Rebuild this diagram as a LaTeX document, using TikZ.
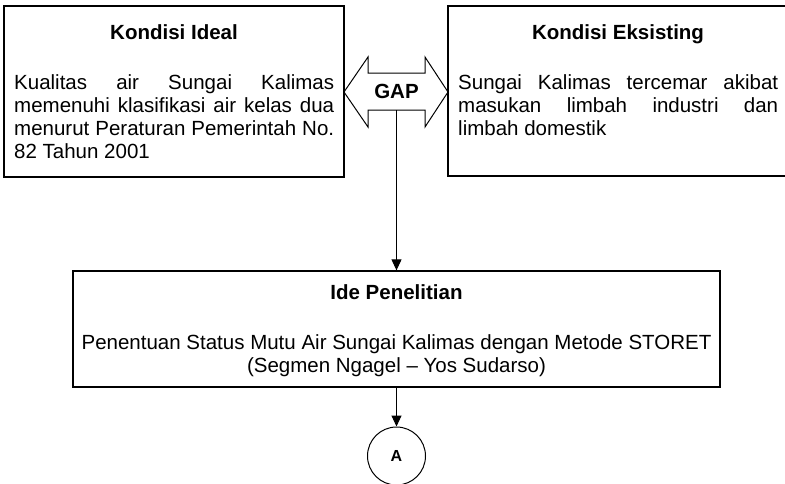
\documentclass[tikz,border=0pt]{standalone}
\usepackage{fontspec}
\setmainfont{Liberation Sans}
\usetikzlibrary{arrows.meta}
\tikzset{
  box/.style={draw, line width=1.3pt, inner sep=0pt, fill=white},
  ttl/.style={font=\fontsize{20.5}{23}\selectfont\bfseries, anchor=base, inner sep=0pt},
  body/.style={font=\fontsize{20.5}{23}\selectfont, anchor=base west, inner sep=0pt, text width=320pt, align=flush left},
  cbody/.style={font=\fontsize{20.5}{23}\selectfont, anchor=base, inner sep=0pt, align=center},
  gapshape/.style={draw, line width=1pt, fill=white},
  link/.style={-{Triangle[width=10pt,length=11pt]}, line width=1pt},
  conn/.style={draw, circle, line width=1pt, minimum size=58pt, inner sep=0pt, font=\fontsize{16}{18}\selectfont\bfseries}
}
\begin{document}
\begin{tikzpicture}[x=1pt,y=-1pt]
\useasboundingbox (0,0) rectangle (785,483);
% left box
\node[box, minimum width=340pt, minimum height=171pt] (ideal) at (174,91.5) {};
\node[ttl] (idealT) at (174,39) {Kondisi Ideal};
\node[body] (idealB) at (14,89) {\makebox[320pt][s]{Kualitas air Sungai Kalimas}\\
\makebox[320pt][s]{memenuhi klasifikasi air kelas dua}\\
\makebox[320pt][s]{menurut Peraturan Pemerintah No.}\\
82 Tahun 2001};
% right box
\node[box, minimum width=340pt, minimum height=170pt] (eks) at (618,91) {};
\node[ttl] (eksT) at (618,39) {Kondisi Eksisting};
\node[body] (eksB) at (458,89) {\makebox[320pt][s]{Sungai Kalimas tercemar akibat}\\
\makebox[320pt][s]{masukan limbah industri dan}\\
limbah domestik};
% GAP double arrow
\draw[gapshape] (344,92) -- (368,57) -- (368,73) -- (425,73) -- (425,57) -- (448,92)
  -- (425,127) -- (425,110) -- (368,110) -- (368,127) -- cycle;
\node[ttl] (gap) at (396.5,98) {GAP};
\coordinate (gapb) at (396.5,110);
% idea box
\node[box, minimum width=647pt, minimum height=116pt] (ide) at (396.5,329) {};
\node[ttl] (ideT) at (396.5,299) {Ide Penelitian};
\node[cbody] (ideB) at (396.5,372) {Penentuan Status Mutu Air Sungai Kalimas dengan Metode STORET\\(Segmen Ngagel -- Yos Sudarso)};
% connector A
\node[conn] (A) at (396.5,456) {A};
\draw[link] (gapb) -- (ide.north);
\draw[link] (ide.south) -- (A.north);
\end{tikzpicture}
\end{document}
